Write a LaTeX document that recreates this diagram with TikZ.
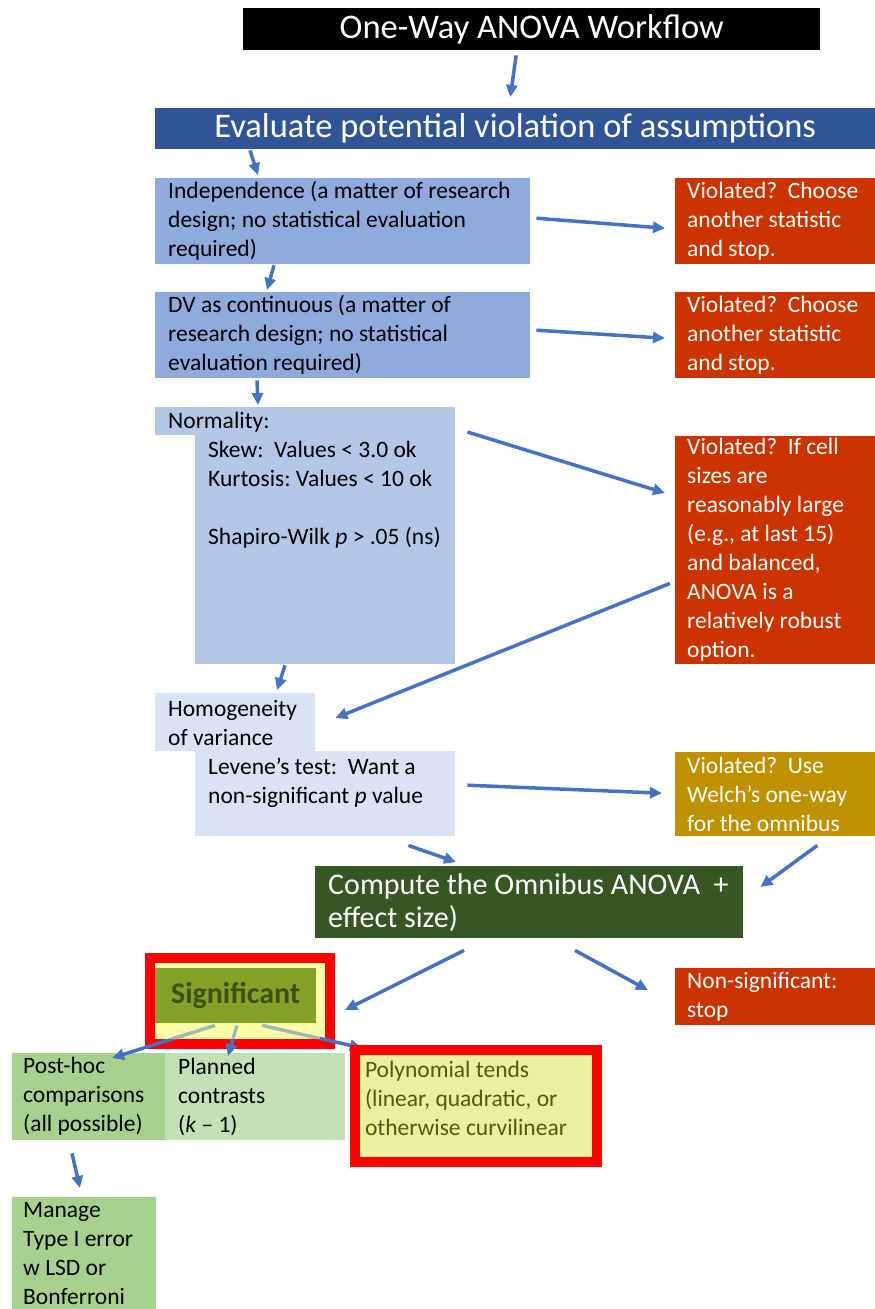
\documentclass[tikz,border=0pt]{standalone}
\usepackage{fontspec}
\setmainfont{Carlito}
\usetikzlibrary{arrows.meta}

\definecolor{flowblue}{HTML}{4472C4}
\definecolor{headblue}{HTML}{2F5597}
\definecolor{stepblue}{HTML}{8FAADC}
\definecolor{normblue}{HTML}{B4C7E7}
\definecolor{homblue}{HTML}{DAE3F3}
\definecolor{stopred}{HTML}{CC3300}
\definecolor{welchgold}{HTML}{BF9000}
\definecolor{omnigreen}{HTML}{375623}
\definecolor{siggreen}{HTML}{84A12A}
\definecolor{sigtext}{HTML}{3F5010}
\definecolor{hlyellow}{HTML}{FFFFA8}
\definecolor{framered}{HTML}{FF0000}
\definecolor{postgreen}{HTML}{A9D18E}
\definecolor{plangreen}{HTML}{C5E0B4}
\definecolor{polyfill}{HTML}{E8F29C}
\definecolor{polytext}{HTML}{55580F}

\newcommand{\tightsp}{\frenchspacing\spaceskip=0.226em plus 0.08em minus 0.03em\relax\xspaceskip=0pt\relax\hyphenpenalty=10000\relax}

\begin{document}
\begin{tikzpicture}[x=1pt,y=-1pt,
  flow/.style={draw=flowblue, line width=3.5pt, -{Triangle[length=12pt,width=11pt]}},
  box/.style={anchor=north west, inner ysep=0pt, font=\fontsize{23.5}{29}\selectfont, execute at begin node=\tightsp},
  banner/.style={anchor=north west, inner sep=0pt, text=white, font=\fontsize{34.5}{40}\selectfont, execute at begin node=\tightsp},
  plain/.style={anchor=north west, inner sep=0pt}]
\useasboundingbox (0,0) rectangle (875,1309);

\node[banner, fill=black, minimum width=577pt, minimum height=42pt] (title) at (243,8) {One-Way ANOVA Workflow};
\node[banner, fill=headblue, minimum width=720pt, minimum height=41pt] (eval) at (155,108) {Evaluate potential violation of assumptions};

\node[box, fill=stepblue, inner xsep=13pt, text width=349pt, minimum height=86pt] (indep) at (155,178) {Independence (a matter of research\\ design; no statistical evaluation\\ required)};
\node[box, fill=stopred, text=white, inner xsep=12pt, text width=176pt, minimum height=86pt] (viol1) at (675,178) {Violated?\ \ Choose\\ another statistic\\ and stop.};
\node[box, fill=stepblue, inner xsep=13pt, text width=349pt, minimum height=86pt] (dv) at (155,292) {DV as continuous (a matter of\\ research design; no statistical\\ evaluation required)};
\node[box, fill=stopred, text=white, inner xsep=12pt, text width=176pt, minimum height=86pt] (viol2) at (675,292) {Violated?\ \ Choose\\ another statistic\\ and stop.};

\fill[normblue] (155,407) rectangle (195,435);
\node[plain, fill=normblue, minimum width=260pt, minimum height=257pt] (norm) at (195,407) {};
\node[box, inner sep=0pt, text width=300pt] (normtxt) at (168,408) {\rule{0pt}{20pt}Normality:\\ \hspace*{40pt}Skew:\ \ Values < 3.0 ok\\ \hspace*{40pt}Kurtosis: Values < 10 ok\\[29pt] \hspace*{40pt}Shapiro-Wilk \textit{p} > .05 (ns)};
\node[box, fill=stopred, text=white, inner xsep=12pt, text width=176pt, minimum height=228pt] (viol3) at (675,436) {Violated?\ \ If cell\\ sizes are\\ reasonably large\\ (e.g., at last 15)\\ and balanced,\\ ANOVA is a\\ relatively robust\\ option.};

\node[plain, fill=homblue, minimum width=160pt, minimum height=58pt] (homtab) at (155,693) {};
\node[plain, fill=homblue, minimum width=260pt, minimum height=85pt] (hom) at (195,751) {};
\node[box, inner sep=0pt, text width=300pt] (homtxt) at (168,696) {\rule{0pt}{20pt}Homogeneity\\ of variance\\ \hspace*{40pt}Levene’s test:\ \ Want a\\ \hspace*{40pt}non-significant \textit{p} value};
\node[box, fill=welchgold, text=white, inner xsep=12pt, text width=176pt, minimum height=84pt] (welch) at (675,752) {Violated?\ \ Use\\ Welch’s one-way\\ for the omnibus};

\node[box, fill=omnigreen, text=white, inner xsep=13pt, text width=402pt, minimum height=72pt, font=\fontsize{30}{33}\selectfont] (omni) at (315,866) {\mbox{Compute the Omnibus ANOVA\ \ +}\\ effect size)};
\node[box, fill=stopred, text=white, inner xsep=12pt, text width=176pt, minimum height=57pt] (nonsig) at (675,968) {Non-significant:\\ stop};

\node[plain, draw=framered, line width=10pt, fill=hlyellow, minimum width=180pt, minimum height=86pt] (sigframe) at (145,953) {};
\node[plain, fill=siggreen, text=sigtext, minimum width=161pt, minimum height=55pt, font=\fontsize{30}{33}\selectfont\bfseries] (sig) at (155,968) {Significant};

\node[box, fill=postgreen, inner xsep=11pt, text width=131pt, minimum height=87pt] (posthoc) at (12,1053) {Post-hoc\\ comparisons\\ (all possible)};
\node[box, fill=plangreen, inner xsep=13pt, text width=154pt, minimum height=87pt] (planned) at (165,1053) {Planned\\ contrasts\\ (\textit{k} – 1)};
\node[box, fill=postgreen, inner xsep=11pt, text width=122pt, minimum height=112pt] (manage) at (12,1197) {Manage\\ Type I error\\ w LSD or\\ Bonferroni};

\draw[flow] ([shift={(-15.5,5)}]title.south) -- ([shift={(-5,-11)}]eval.north);
\draw[flow] ([shift={(95,1)}]eval.south west) -- ([shift={(103,-3)}]indep.north west);
\draw[flow] ([shift={(6,-3)}]indep.east) -- ([shift={(-10,7)}]viol1.west);
\draw[flow] ([shift={(119,1)}]indep.south west) -- ([shift={(112,-2)}]dv.north west);
\draw[flow] ([shift={(6,-5)}]dv.east) -- ([shift={(-10,3)}]viol2.west);
\draw[flow] ([shift={(102,2)}]dv.south west) -- ([shift={(63,-2)}]norm.north west);
\draw[flow] ([shift={(12,25)}]norm.north east) -- ([shift={(-10,57)}]viol3.north west);
\draw[flow] ([shift={(90,1)}]norm.south west) -- ([shift={(122,-3)}]homtab.north west);
\draw[flow] ([shift={(-5,-81)}]viol3.south west) -- ([shift={(20,25)}]homtab.north east);
\draw[flow] ([shift={(12,-8.5)}]hom.east) -- ([shift={(-13,-1)}]welch.west);
\draw[flow] ([shift={(-47,9)}]hom.south east) -- ([shift={(141,-4)}]omni.north west);
\draw[flow] ([shift={(-58,9)}]welch.south east) -- ([shift={(17,21)}]omni.north east);
\draw[flow] ([shift={(149,12)}]omni.south west) -- ([shift={(10,9)}]sigframe.east);
\draw[flow] ([shift={(260,12)}]omni.south west) -- ([shift={(-27,-6.5)}]nonsig.west);
\draw[flow] ([shift={(60,2)}]sig.south west) -- ([shift={(100,5)}]posthoc.north west);
\draw[flow] ([shift={(82,2)}]sig.south west) -- ([shift={(63,3)}]planned.north west);
\draw[flow] ([shift={(107,2)}]sig.south west) -- ([shift={(197,-5)}]planned.north west);
\draw[flow] ([shift={(60,13)}]posthoc.south west) -- ([shift={(68,-9)}]manage.north west);
\fill[hlyellow, fill opacity=0.5] (sig.south west) rectangle (320,1039);

\node[plain, draw=framered, line width=10pt, fill=polyfill, text=polytext, minimum width=242pt, minimum height=112pt, inner xsep=10pt, text width=222pt, font=\fontsize{23.5}{29}\selectfont, execute at begin node=\tightsp] (poly) at (350,1045) {Polynomial tends\\ (linear, quadratic, or\\ otherwise curvilinear\par\vspace*{16pt}};
\end{tikzpicture}
\end{document}
